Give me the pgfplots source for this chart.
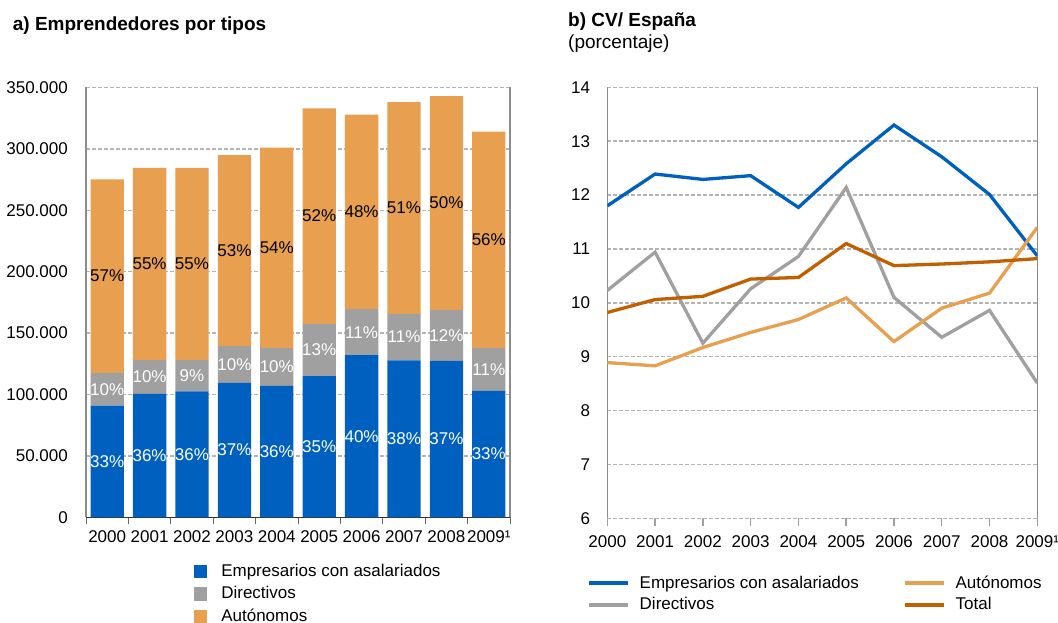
\documentclass[border=0pt]{standalone}
\usepackage{fontspec}
\setmainfont{Liberation Sans}
\usepackage{pgfplots}
\usepackage{pgfplotstable}
\pgfplotsset{compat=1.18}
\definecolor{cblue}{HTML}{0060BF}
\definecolor{cgray}{HTML}{A0A0A0}
\definecolor{corange}{HTML}{E8A050}
\definecolor{cdark}{HTML}{C06000}
\definecolor{cgrid}{HTML}{B4B4B4}
\definecolor{caxis}{HTML}{8C8C8C}
\newcommand\fs{\fontsize{17pt}{20pt}\selectfont}
\pgfplotsset{
  sq/.style={legend image code/.code={\fill[##1] (0pt,-2pt) rectangle (13.3pt,11.3pt);}},
  ln/.style={legend image code/.code={\draw[##1, line width=4pt] (0pt,4.6pt) -- (38.7pt,4.6pt);}},
}
\pgfplotstableread{
x emp dir aut
0 91000 26600 157600
1 100600 27400 156500
2 102500 25500 156500
3 109500 29900 155600
4 107000 31000 163000
5 115000 42500 175500
6 132000 37500 158500
7 127700 38000 172300
8 127400 41600 174000
9 103000 35000 176000
}\datosA
\pgfplotstableread{
x by bl gy gl oy ol
0 45500 33 104300 10 196400 57
1 50300 36 114300 10 206250 55
2 51250 36 115250 9 206250 55
3 54750 37 124450 10 217200 53
4 53500 36 122500 10 219500 54
5 57500 35 136250 13 245250 52
6 66000 40 150750 11 248750 48
7 63850 38 146700 11 251850 51
8 63700 37 148200 12 256000 50
9 51500 33 120500 11 226000 56
}\etiq
\pgfplotstableread{
year emp dir aut tot
2000 11.80 10.23 8.89 9.82
2001 12.39 10.94 8.83 10.06
2002 12.29 9.25 9.17 10.12
2003 12.36 10.26 9.45 10.44
2004 11.77 10.86 9.69 10.47
2005 12.58 12.14 10.09 11.10
2006 13.30 10.10 9.28 10.69
2007 12.71 9.36 9.90 10.72
2008 12.01 9.86 10.18 10.76
2009 10.87 8.51 11.40 10.82
}\datosB
\begin{document}
\begin{tikzpicture}
\path[use as bounding box] (0,0) rectangle (1058pt,623pt);
\node[anchor=base west, inner sep=0pt, font=\fontsize{19pt}{22pt}\selectfont\bfseries] at (12.7pt,592pt) {a) Emprendedores por tipos};
\node[anchor=base west, inner sep=0pt, font=\fontsize{19pt}{22pt}\selectfont\bfseries] at (568pt,596.3pt) {b) CV/ España};
\node[anchor=base west, inner sep=0pt, font=\fontsize{19pt}{22pt}\selectfont] at (568pt,574pt) {(porcentaje)};

\begin{axis}[
  at={(86pt,105.7pt)}, anchor=south west,
  scale only axis, width=424pt, height=429.8pt,
  ybar stacked, bar width=33.3pt,
  xmin=-0.5, xmax=9.5, ymin=0, ymax=350000,
  scaled y ticks=false,
  axis x line*=bottom, axis y line*=box,
  x axis line style={draw=black!80, line width=1.5pt},
  y axis line style={draw=caxis, line width=1.5pt},
  tick align=outside, major tick length=0pt, minor tick length=7pt,
  xtick={0,1,2,3,4,5,6,7,8,9},
  xticklabels={2000,2001,2002,2003,2004,2005,2006,2007,2008,2009¹},
  minor xtick={-0.5,0.5,1.5,2.5,3.5,4.5,5.5,6.5,7.5,8.5,9.5},
  major x tick style={draw=none},
  minor x tick style={draw=black!60, line width=1pt},
  ytick={0,50000,100000,150000,200000,250000,300000,350000},
  yticklabels={0,50.000,100.000,150.000,200.000,250.000,300.000,350.000},
  ytick style={draw=none},
  tick label style={font=\fs, inner sep=0pt},
  yticklabel style={xshift=-18pt},
  xticklabel style={yshift=-13pt},
  ymajorgrids,
  major grid style={draw=cgrid, line width=1.5pt, dash pattern=on 3.5pt off 2.5pt},
  legend style={at={(0.2547,-0.1087)}, anchor=north west, draw=none, fill=none,
    inner sep=0pt, outer sep=0pt, font=\fs, row sep=7pt,
    nodes={inner sep=0pt, text height=12pt, text depth=3.5pt, anchor=base west},
    /tikz/every odd column/.append style={column sep=14pt}},
  legend cell align=left,
]
\addplot[fill=cblue, draw=none, sq] table[x=x, y=emp] {\datosA};
\addlegendentry{Empresarios con asalariados}
\addplot[fill=cgray, draw=none, sq] table[x=x, y=dir] {\datosA};
\addlegendentry{Directivos}
\addplot[fill=corange, draw=none, sq] table[x=x, y=aut] {\datosA};
\addlegendentry{Autónomos}
\end{axis}

\begin{axis}[
  at={(86pt,105.7pt)}, anchor=south west,
  scale only axis, width=424pt, height=429.8pt,
  xmin=-0.5, xmax=9.5, ymin=0, ymax=350000,
  hide axis, clip=false,
  point meta=explicit symbolic,
  nodes near coords={\pgfplotspointmeta\%},
  nodes near coords style={anchor=center, font=\fs, inner sep=0pt},
]
\addplot[only marks, mark=none, nodes near coords style={text=white}] table[x=x, y=by, meta=bl] {\etiq};
\addplot[only marks, mark=none, nodes near coords style={text=white}] table[x=x, y=gy, meta=gl] {\etiq};
\addplot[only marks, mark=none, nodes near coords style={text=black}] table[x=x, y=oy, meta=ol] {\etiq};
\end{axis}

\begin{axis}[
  at={(607.3pt,104.7pt)}, anchor=south west,
  scale only axis, width=430pt, height=431pt,
  xmin=2000, xmax=2009, ymin=6, ymax=14,
  axis x line*=bottom, axis y line*=box,
  x axis line style={draw=cgrid, line width=1.5pt, dash pattern=on 3.5pt off 2.5pt},
  y axis line style={draw=caxis, line width=1.5pt},
  tick align=outside, major tick length=8pt,
  xtick={2000,2001,2002,2003,2004,2005,2006,2007,2008,2009},
  xticklabels={2000,2001,2002,2003,2004,2005,2006,2007,2008,2009¹},
  xtick style={draw=cgray, line width=1.5pt},
  ytick={6,7,8,9,10,11,12,13,14},
  yticklabels={6,7,8,9,10,11,12,13,14},
  ytick style={draw=none},
  tick label style={font=\fs, inner sep=0pt},
  yticklabel style={xshift=-9pt},
  xticklabel style={yshift=-9pt},
  ymajorgrids,
  major grid style={draw=cgrid, line width=1.5pt, dash pattern=on 3.5pt off 2.5pt},
  legend columns=2, transpose legend,
  legend style={at={(-0.0472,-0.1339)}, anchor=north west, draw=none, fill=none,
    inner sep=0pt, outer sep=0pt, font=\fs, row sep=6.1pt,
    nodes={inner sep=0pt, text height=12pt, text depth=3.5pt, anchor=base west},
    /tikz/every odd column/.append style={column sep=10pt},
    /tikz/every even column/.append style={column sep=44pt}},
  legend cell align=left,
]
\addplot[cblue, line width=3.3pt, ln] table[x=year, y=emp] {\datosB};
\addlegendentry{Empresarios con asalariados}
\addplot[cgray, line width=3.3pt, ln] table[x=year, y=dir] {\datosB};
\addlegendentry{Directivos}
\addplot[corange, line width=3.3pt, ln] table[x=year, y=aut] {\datosB};
\addlegendentry{Autónomos}
\addplot[cdark, line width=3.3pt, ln] table[x=year, y=tot] {\datosB};
\addlegendentry{Total}
\end{axis}
\end{tikzpicture}
\end{document}
